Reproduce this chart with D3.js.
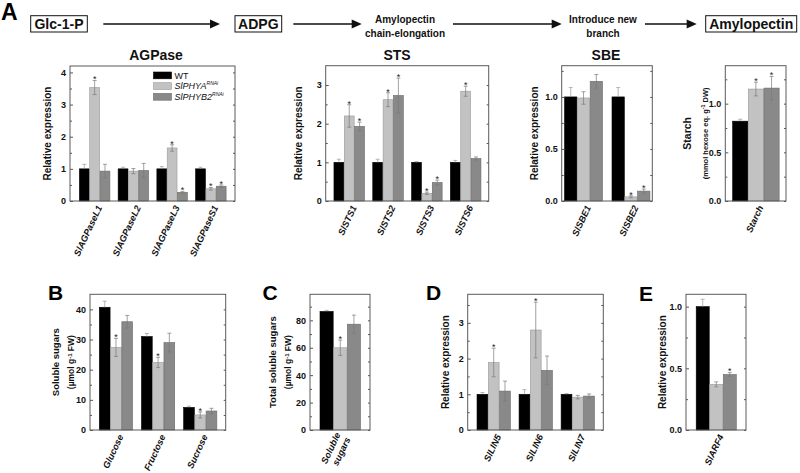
<!DOCTYPE html>
<html><head><meta charset="utf-8">
<script src="https://cdn.jsdelivr.net/npm/d3@7"></script>
<style>body{margin:0;background:#fff}</style>
</head><body>
<svg id="c" width="800" height="473"></svg>
<script>
// ---------- DATA ----------
const seriesNames = ["WT", "SlPHYA", "SlPHYB2"];

const agpCats = ["SlAGPaseL1", "SlAGPaseL2", "SlAGPaseL3", "SlAGPaseS1"];
const agpWT = [1, 1, 1, 1], agpWTErr = [0.14, 0.05, 0.07, 0.05];
const agpA = [3.53, 0.93, 1.65, 0.38], agpAErr = [0.22, 0.08, 0.10, 0.04];
const agpB = [0.93, 0.95, 0.27, 0.46], agpBErr = [0.21, 0.22, 0.03, 0.04];
const agpStarA = [1, 0, 1, 1], agpStarB = [0, 0, 1, 1];
const agpTicks = [0, 1, 2, 3, 4];

const stsCats = ["SlSTS1", "SlSTS2", "SlSTS3", "SlSTS6"];
const stsWT = [1, 1, 1, 1], stsWTErr = [0.08, 0.08, 0.02, 0.05];
const stsA = [2.2, 2.62, 0.2, 2.84], stsAErr = [0.29, 0.18, 0.03, 0.13];
const stsB = [1.93, 2.73, 0.48, 1.1], stsBErr = [0.11, 0.45, 0.06, 0.04];
const stsStarA = [1, 1, 1, 1], stsStarB = [1, 1, 1, 0];
const stsTicks = [0, 1, 2, 3];

const sbeCats = ["SlSBE1", "SlSBE2"];
const sbeWT = [1, 1], sbeWTErr = [0.09, 0.09];
const sbeA = [0.99, 0.04], sbeAErr = [0.06, 0.01];
const sbeB = [1.15, 0.095], sbeBErr = [0.065, 0.02];
const sbeStarA = [0, 1], sbeStarB = [0, 1];
const sbeTicks = [0, 0.5, 1.0];

const starchCats = ["Starch"];
const starchWT = [0.82], starchWTErr = [0.02];
const starchA = [1.15], starchAErr = [0.07];
const starchB = [1.16], starchBErr = [0.12];
const starchStarA = [1], starchStarB = [1];
const starchTicks = [0, 0.5, 1.0];

const sugCats = ["Glucose", "Fructose", "Sucrose"];
const sugWT = [40.7, 31.0, 7.5], sugWTErr = [2.0, 1.0, 0.4];
const sugA = [27.4, 22.4, 5.0], sugAErr = [3.0, 1.7, 1.0];
const sugB = [35.9, 29.0, 6.3], sugBErr = [2.1, 3.1, 0.9];
const sugStarA = [1, 1, 1], sugStarB = [0, 0, 0];
const sugTicks = [0, 10, 20, 30, 40];

const totCats = ["Soluble sugars"];
const totWT = [86.5], totWTErr = [0.8];
const totA = [60.0], totAErr = [5.6];
const totB = [77.2], totBErr = [6.6];
const totStarA = [1], totStarB = [0];
const totTicks = [0, 20, 40, 60, 80];

const linCats = ["SlLIN5", "SlLIN6", "SlLIN7"];
const linWT = [1, 1, 1], linWTErr = [0.05, 0.13, 0.02];
const linA = [1.89, 2.8, 0.92], linAErr = [0.4, 0.78, 0.05];
const linB = [1.09, 1.67, 0.95], linBErr = [0.28, 0.4, 0.06];
const linStarA = [1, 1, 0], linStarB = [0, 0, 0];
const linTicks = [0, 1, 2, 3];

const arfCats = ["SlARF4"];
const arfWT = [1.0], arfWTErr = [0.06];
const arfA = [0.37], arfAErr = [0.02];
const arfB = [0.45], arfBErr = [0.015];
const arfStarA = [0], arfStarB = [1];
const arfTicks = [0, 0.5, 1.0];

// ---------- DRAWING ----------
const FONT = "Liberation Sans, Arial, Helvetica, sans-serif";
const fills = ["#000000", "#c2c2c2", "#898989"];
const strokes = ["#000000", "#9a9a9a", "#6a6a6a"];
const svg = d3.select("#c").style("font-family", FONT);

function panel(p) {
  const g = svg.append("g");
  const x = d3.scaleBand().domain(p.cats).range([p.l, p.r]).paddingInner(p.pi).paddingOuter(p.po);
  const xs = d3.scaleBand().domain([0, 1, 2]).range([0, x.bandwidth()]);
  const y = d3.scaleLinear().domain([0, p.ymax]).range([p.b, p.t]);
  const vals = p.vals, errs = p.errs, stars = p.stars;

  // bars
  vals.forEach((arr, si) => {
    g.selectAll(null).data(arr).enter().append("rect")
      .attr("x", (d, i) => x(p.cats[i]) + xs(si) + 0.5)
      .attr("y", d => y(d))
      .attr("width", xs.bandwidth() - 0.5)
      .attr("height", d => y(0) - y(d))
      .attr("fill", fills[si]).attr("stroke", strokes[si]).attr("stroke-width", 0.6);
  });
  // error bars
  vals.forEach((arr, si) => {
    arr.forEach((v, i) => {
      const cx = x(p.cats[i]) + xs(si) + xs.bandwidth() / 2 + 0.25;
      const e = errs[si][i];
      const col = si === 0 ? "#9a9a9a" : "#7a7a7a";
      const lo = si === 0 ? v : v - e;
      g.append("line").attr("x1", cx).attr("x2", cx).attr("y1", y(lo)).attr("y2", y(v + e))
        .attr("stroke", col).attr("stroke-width", 0.7);
      const caps = si === 0 ? [v + e] : [v - e, v + e];
      caps.forEach(t => g.append("line").attr("x1", cx - 2).attr("x2", cx + 2)
        .attr("y1", y(t)).attr("y2", y(t)).attr("stroke", col).attr("stroke-width", 0.7));
      if (stars[si] && stars[si][i]) {
        g.append("text").attr("x", cx).attr("y", y(v + e) + 1.8).attr("text-anchor", "middle")
          .attr("font-size", 9).attr("fill", "#222").text("*");
      }
    });
  });
  // axes
  const fmt = p.fmt ? d3.format(p.fmt) : d3.format("d");
  const la = g.append("g").attr("transform", `translate(${p.l},0)`)
    .call(d3.axisLeft(y).tickValues(p.ticks).tickSizeInner(-3).tickSizeOuter(0).tickPadding(4).tickFormat(fmt));
  la.select(".domain").remove();
  la.selectAll("line").attr("stroke", "#555");
  la.selectAll("text").attr("font-size", 9).attr("font-weight", "bold").attr("fill", "#111").attr("font-family", FONT);
  const lm = g.append("g").attr("transform", `translate(${p.l},0)`)
    .call(d3.axisLeft(y).tickValues(p.minor).tickSize(-2).tickFormat(""));
  lm.select(".domain").remove(); lm.selectAll("line").attr("stroke", "#555");
  const ra = g.append("g").attr("transform", `translate(${p.r},0)`)
    .call(d3.axisRight(y).tickValues(p.ticks.concat(p.minor)).tickSize(-2).tickFormat(""));
  ra.select(".domain").remove(); ra.selectAll("line").attr("stroke", "#555");

  // frame
  g.append("rect").attr("x", p.l).attr("y", p.t).attr("width", p.r - p.l).attr("height", p.b - p.t)
    .attr("fill", "none").attr("stroke", "#5a5a5a").attr("stroke-width", 1);

  // x labels
  p.cats.forEach(c => {
    const cx = x(c) + x.bandwidth() / 2;
    const lines = p.multi ? c.split(" ") : [c];
    const t = g.append("text")
      .attr("transform", `translate(${cx + (p.multi ? 2 : 5)},${p.b + 5}) rotate(-65)`)
      .attr("text-anchor", "end").attr("font-size", 9.2).attr("font-weight", "bold")
      .attr("font-style", "italic").attr("fill", "#111");
    if (lines.length === 1) {
      t.attr("dy", "0.35em").text(lines[0]);
    } else {
      lines.forEach((ln, k) => t.append("tspan").attr("x", 0).attr("y", k === 0 ? -1.5 : 9.5).text(ln));
    }
  });

  // y label
  const yc = (p.t + p.b) / 2;
  if (p.ylab) {
    g.append("text").attr("transform", `translate(${p.ylx},${yc}) rotate(-90)`)
      .attr("text-anchor", "middle").attr("dy", "0.35em").attr("font-size", p.ylabSize || 10)
      .attr("font-weight", "bold").attr("fill", "#111").text(p.ylab);
  }
  if (p.ysub) {
    const fs = p.ysubSize || 8.5;
    const s = g.append("text").attr("transform", `translate(${p.ysx},${yc}) rotate(-90)`)
      .attr("text-anchor", "middle").attr("dy", "0.35em").attr("font-size", fs)
      .attr("font-weight", "bold").attr("fill", "#111");
    s.append("tspan").text(p.ysub[0]);
    s.append("tspan").attr("font-size", fs * 0.7).attr("dy", "-0.5em").text(p.ysub[1]);
    s.append("tspan").attr("dy", "0.35em").text(p.ysub[2]);
  }
  if (p.title) {
    g.append("text").attr("x", p.tx).attr("y", 60).attr("text-anchor", "middle")
      .attr("font-size", 14).attr("font-weight", "bold").attr("fill", "#111").text(p.title);
  }
  return {x, y};
}

panel({cats: agpCats, vals: [agpWT, agpA, agpB], errs: [agpWTErr, agpAErr, agpBErr], stars: [null, agpStarA, agpStarB],
  l: 70, r: 235, t: 66, b: 201, pi: 0.2, po: 0.23, ymax: 4.2, ticks: agpTicks, minor: [0.5, 1.5, 2.5, 3.5],
  ylab: "Relative expression", ylx: 47.5, title: "AGPase", tx: 156});
panel({cats: stsCats, vals: [stsWT, stsA, stsB], errs: [stsWTErr, stsAErr, stsBErr], stars: [null, stsStarA, stsStarB],
  l: 325.7, r: 488.7, t: 65.7, b: 201, pi: 0.2, po: 0.2, ymax: 3.5, ticks: stsTicks, minor: [0.5, 1.5, 2.5],
  ylab: "Relative expression", ylx: 298, title: "STS", tx: 397});
panel({cats: sbeCats, vals: [sbeWT, sbeA, sbeB], errs: [sbeWTErr, sbeAErr, sbeBErr], stars: [null, sbeStarA, sbeStarB],
  l: 561.7, r: 652.3, t: 65.7, b: 201, pi: 0.19, po: 0.05, ymax: 1.3, ticks: sbeTicks, minor: [0.25, 0.75, 1.25], fmt: ".1f",
  ylab: "Relative expression", ylx: 534, title: "SBE", tx: 606});
panel({cats: starchCats, vals: [starchWT, starchA, starchB], errs: [starchWTErr, starchAErr, starchBErr], stars: [null, starchStarA, starchStarB],
  l: 725.3, r: 786, t: 65.7, b: 201, pi: 0, po: 0.146, ymax: 1.39, ticks: starchTicks, minor: [0.25, 0.75, 1.25], fmt: ".1f",
  ylab: "Starch", ylx: 687, ylabSize: 10.5, ysub: ["(mmol hexose eq. g", "-1", " DW)"], ysx: 705, ysubSize: 7.5});
panel({cats: sugCats, vals: [sugWT, sugA, sugB], errs: [sugWTErr, sugAErr, sugBErr], stars: [null, sugStarA, sugStarB],
  l: 90, r: 225.7, t: 294.3, b: 430, pi: 0.2, po: 0.21, ymax: 45, ticks: sugTicks, minor: [5, 15, 25, 35],
  ylab: "Soluble sugars", ylx: 56, ylabSize: 9.5, ysub: ["(\u00b5mol g", "-1", " FW)"], ysx: 71.5, ysubSize: 8.5});
panel({cats: totCats, vals: [totWT, totA, totB], errs: [totWTErr, totAErr, totBErr], stars: [null, totStarA, totStarB],
  l: 310, r: 370, t: 294.3, b: 430, pi: 0, po: 0.232, ymax: 99, ticks: totTicks, minor: [10, 30, 50, 70, 90], multi: true,
  ylab: "Total soluble sugars", ylx: 272.5, ylabSize: 9.5, ysub: ["(\u00b5mol g", "-1", " FW)"], ysx: 288.5, ysubSize: 8.5});
panel({cats: linCats, vals: [linWT, linA, linB], errs: [linWTErr, linAErr, linBErr], stars: [null, linStarA, linStarB],
  l: 467.7, r: 603.3, t: 294.3, b: 430, pi: 0.195, po: 0.21, ymax: 3.8, ticks: linTicks, minor: [0.5, 1.5, 2.5, 3.5],
  ylab: "Relative expression", ylx: 445});
panel({cats: arfCats, vals: [arfWT, arfA, arfB], errs: [arfWTErr, arfAErr, arfBErr], stars: [null, arfStarA, arfStarB],
  l: 686, r: 746, t: 294.3, b: 430, pi: 0, po: 0.239, ymax: 1.1, ticks: arfTicks, minor: [0.25, 0.75], fmt: ".1f",
  ylab: "Relative expression", ylx: 662});

// legend (inside AGPase panel)
const leg = svg.append("g");
seriesNames.forEach((n, i) => {
  const yy = 72 + i * 10.7;
  leg.append("rect").attr("x", 153.5).attr("y", yy).attr("width", 18).attr("height", 6.8)
    .attr("fill", fills[i]).attr("stroke", strokes[i]).attr("stroke-width", 0.6);
  const t = leg.append("text").attr("x", 174.5).attr("y", yy + 6.5).attr("font-size", 9).attr("fill", "#111");
  if (i === 0) t.text(n);
  else {
    t.append("tspan").attr("font-style", "italic").text(n);
    t.append("tspan").attr("font-style", "italic").attr("font-size", 5).attr("dy", "-4").text("RNAi");
  }
});

// pathway header
const hdr = svg.append("g");
const boxes = [{t: "Glc-1-P", x0: 30.7, x1: 87.3}, {t: "ADPG", x0: 235, x1: 281.7}, {t: "Amylopectin", x0: 705.7, x1: 796.7}];
boxes.forEach(b => {
  hdr.append("rect").attr("x", b.x0).attr("y", 15.7).attr("width", b.x1 - b.x0).attr("height", 16.3)
    .attr("fill", "#fff").attr("stroke", "#111").attr("stroke-width", 1);
  hdr.append("text").attr("x", (b.x0 + b.x1) / 2).attr("y", 29).attr("text-anchor", "middle")
    .attr("font-size", 14).attr("font-weight", "bold").attr("fill", "#111").text(b.t);
});
const arrows = [[103.3, 220], [293.3, 361.7], [453, 561.7], [645, 696.7]];
arrows.forEach(a => {
  hdr.append("line").attr("x1", a[0]).attr("x2", a[1] - 8).attr("y1", 24).attr("y2", 24)
    .attr("stroke", "#111").attr("stroke-width", 1.4);
  hdr.append("path").attr("d", `M${a[1]},24 L${a[1] - 10},19.5 L${a[1] - 10},28.5 Z`).attr("fill", "#111");
});
[["Amylopectin", "chain-elongation", 405], ["Introduce new", "branch", 603]].forEach(s => {
  hdr.append("text").attr("x", s[2]).attr("y", 23).attr("text-anchor", "middle").attr("font-size", 10)
    .attr("font-weight", "bold").attr("fill", "#111").text(s[0]);
  hdr.append("text").attr("x", s[2]).attr("y", 37).attr("text-anchor", "middle").attr("font-size", 10)
    .attr("font-weight", "bold").attr("fill", "#111").text(s[1]);
});

// panel letters
[["A", 1, 20, 23], ["B", 48, 300, 21], ["C", 262.5, 300, 21], ["D", 426, 300, 21], ["E", 639, 300.5, 21]].forEach(l => {
  svg.append("text").attr("x", l[1]).attr("y", l[2]).attr("font-size", l[3]).attr("font-weight", "bold").attr("fill", "#000").text(l[0]);
});
</script>
</body></html>
